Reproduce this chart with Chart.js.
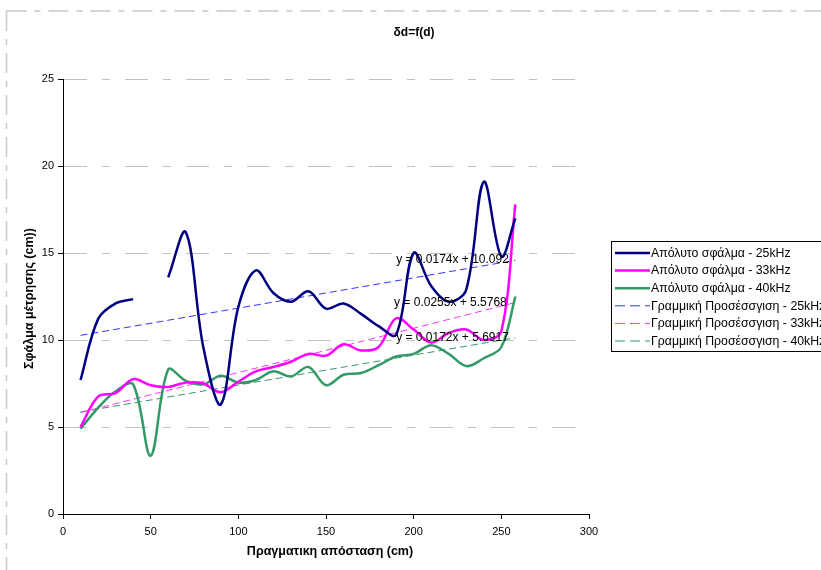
<!DOCTYPE html>
<html>
<head>
<meta charset="utf-8">
<title>δd=f(d)</title>
<script src="https://cdn.jsdelivr.net/npm/chart.js@4.4.1/dist/chart.umd.min.js"></script>
<style>
  html, body { margin: 0; padding: 0; background: #fff; }
  #wrap { position: relative; width: 821px; height: 570px; overflow: hidden; }
</style>
</head>
<body>
<div id="wrap"><canvas id="chart" width="821" height="570"></canvas></div>
<script>
// measured distance (cm)
const distances = [10, 20, 30, 40, 50, 60, 70, 80, 90, 100, 110, 120, 130, 140, 150,
                   160, 170, 180, 190, 200, 210, 220, 230, 240, 250, 258];

// absolute measurement error (cm) per frequency, null = no reading
const error25 = [7.7, 11.2, 12.1, 12.35, null, 13.6, 16.2, 9.6, 6.3, 11.9, 14.0, 12.7, 12.2,
                 12.8, 11.8, 12.1, 11.5, 10.8, 10.3, 15.0, 13.1, 12.2, 12.9, 19.1, 14.8, 17.0];
const error33 = [5.0, 6.75, 6.95, 7.75, 7.4, 7.3, 7.55, 7.5, 7.0, 7.6, 8.2, 8.45, 8.75,
                 9.2, 9.1, 9.75, 9.4, 9.6, 11.25, 10.6, 9.85, 10.4, 10.6, 10.0, 10.5, 17.8];
const error40 = [4.9, 6.1, 7.05, 7.45, 3.35, 8.3, 7.65, 7.45, 7.95, 7.55, 7.7, 8.2, 7.9,
                 8.45, 7.4, 8.0, 8.1, 8.55, 9.05, 9.2, 9.7, 9.2, 8.5, 8.95, 9.6, 12.5];

// linear trend lines y = a*x + b
const trendSlopes = [0.0174, 0.0255, 0.0172];
const trendIntercepts = [10.092, 5.5768, 5.6917];
const trendEquations = ['y = 0.0174x + 10.092', 'y = 0.0255x + 5.5768', 'y = 0.0172x + 5.6917'];

const seriesNames = ['Απόλυτο σφάλμα - 25kHz', 'Απόλυτο σφάλμα - 33kHz', 'Απόλυτο σφάλμα - 40kHz'];
const trendNames = ['Γραμμική Προσέσσγιση - 25kHz', 'Γραμμική Προσέσσγιση - 33kHz', 'Γραμμική Προσέσσγιση - 40kHz'];

const xTicks = [0, 50, 100, 150, 200, 250, 300];
const yTicks = [0, 5, 10, 15, 20, 25];

const lineColors = ['#000080', '#ff00ff', '#339966'];
const trendColors = ['#3333ff', '#ff33ff', '#339966'];
const FONT = '"Liberation Sans", Arial, sans-serif';

function points(values) {
  return distances.map((d, i) => ({ x: d, y: values[i] }));
}

function trendPoints(i) {
  const x0 = distances[0], x1 = distances[distances.length - 1];
  return [
    { x: x0, y: trendSlopes[i] * x0 + trendIntercepts[i] },
    { x: x1, y: trendSlopes[i] * x1 + trendIntercepts[i] }
  ];
}

const datasets = [error25, error33, error40].map((vals, i) => ({
  label: seriesNames[i],
  data: points(vals),
  borderColor: lineColors[i],
  borderWidth: 2.5,
  pointRadius: 0,
  tension: 0.35,
  spanGaps: false,
  fill: false
})).concat(trendNames.map((name, i) => ({
  label: name,
  data: trendPoints(i),
  borderColor: trendColors[i],
  borderWidth: 1,
  borderDash: [7, 4],
  pointRadius: 0,
  tension: 0,
  fill: false
})));

// where the trend equations sit, in data units
const equationAnchors = [[190, 14.64], [188.8, 12.16], [190, 10.13]];

function dashedLine(ctx, x1, y1, x2, y2, pattern) {
  ctx.save();
  ctx.setLineDash(pattern);
  ctx.beginPath();
  ctx.moveTo(x1, y1);
  ctx.lineTo(x2, y2);
  ctx.stroke();
  ctx.restore();
}

const decorations = {
  id: 'decorations',
  beforeDraw(chart) {
    const ctx = chart.ctx;
    ctx.save();
    ctx.fillStyle = '#fff';
    ctx.fillRect(0, 0, chart.width, chart.height);
    // outer chart frame
    ctx.strokeStyle = '#c8c8c8';
    ctx.lineWidth = 1.5;
    dashedLine(ctx, 6.5, 11, chart.width, 11, [20, 8, 6, 8]);
    dashedLine(ctx, 6.5, 11, 6.5, chart.height, [20, 8, 6, 8]);
    ctx.restore();
  },
  afterDatasetsDraw(chart) {
    const ctx = chart.ctx;
    const xs = chart.scales.x, ys = chart.scales.y;
    ctx.save();
    ctx.fillStyle = '#000';
    ctx.font = '12px ' + FONT;
    ctx.textBaseline = 'middle';
    ctx.textAlign = 'left';
    equationAnchors.forEach((a, i) => {
      ctx.fillText(trendEquations[i], xs.getPixelForValue(a[0]), ys.getPixelForValue(a[1]));
    });
    ctx.restore();
  },
  afterDraw(chart) {
    const ctx = chart.ctx;
    const area = chart.chartArea;
    ctx.save();
    ctx.fillStyle = '#000';

    // title
    ctx.font = 'bold 12px ' + FONT;
    ctx.textAlign = 'center';
    ctx.textBaseline = 'middle';
    ctx.fillText('δd=f(d)', 414, 33);

    // axis titles
    ctx.font = 'bold 12.5px ' + FONT;
    ctx.fillText('Πραγματικη απόσταση (cm)', 330, 552);
    ctx.save();
    ctx.translate(30, (area.top + area.bottom) / 2 + 2);
    ctx.rotate(-Math.PI / 2);
    ctx.fillText('Σφάλμα μέτρησης (cm))', 0, 0);
    ctx.restore();

    // legend
    const lx = 611, ly = 241, rowH = 17.6;
    ctx.strokeStyle = '#000';
    ctx.lineWidth = 1;
    ctx.strokeRect(lx + 0.5, ly + 0.5, 240, 110);
    ctx.font = '12.3px ' + FONT;
    ctx.textAlign = 'left';
    chart.data.datasets.forEach((ds, i) => {
      const y = ly + 12 + i * rowH;
      ctx.save();
      ctx.strokeStyle = ds.borderColor;
      ctx.lineWidth = ds.borderWidth;
      ctx.setLineDash(ds.borderDash ? [10, 5] : []);
      ctx.beginPath();
      ctx.moveTo(lx + 4, y);
      ctx.lineTo(lx + 39, y);
      ctx.stroke();
      ctx.restore();
      ctx.fillText(ds.label, lx + 40, y + 0.5);
    });
    ctx.restore();
  }
};

new Chart(document.getElementById('chart'), {
  type: 'line',
  data: { datasets },
  plugins: [decorations],
  options: {
    responsive: false,
    animation: false,
    devicePixelRatio: 1,
    layout: { padding: { left: 0, top: 79, right: 232, bottom: 0 } },
    plugins: { legend: { display: false }, title: { display: false }, tooltip: { enabled: false } },
    scales: {
      x: {
        type: 'linear',
        min: 0,
        max: 300,
        afterBuildTicks: s => { s.ticks = xTicks.map(v => ({ value: v })); },
        afterFit: s => { s.height = 56; },
        ticks: { color: '#000', font: { family: FONT, size: 11 }, padding: 6, maxRotation: 0 },
        grid: { drawOnChartArea: false, drawTicks: true, tickLength: 5, tickColor: '#000' },
        border: { color: '#000', width: 1 }
      },
      y: {
        min: 0,
        max: 25,
        afterBuildTicks: s => { s.ticks = yTicks.map(v => ({ value: v })); },
        afterFit: s => { s.width = 63; },
        ticks: { color: '#000', font: { family: FONT, size: 11 }, padding: 4 },
        grid: {
          color: c => (c.tick && c.tick.value === 0 ? 'rgba(0,0,0,0)' : '#c0c0c0'),
          lineWidth: 1,
          tickLength: 5,
          tickColor: '#000',
          tickBorderDash: []
        },
        border: { color: '#000', width: 1, dash: [23, 15, 8, 15] }
      }
    }
  }
});
</script>
</body>
</html>
